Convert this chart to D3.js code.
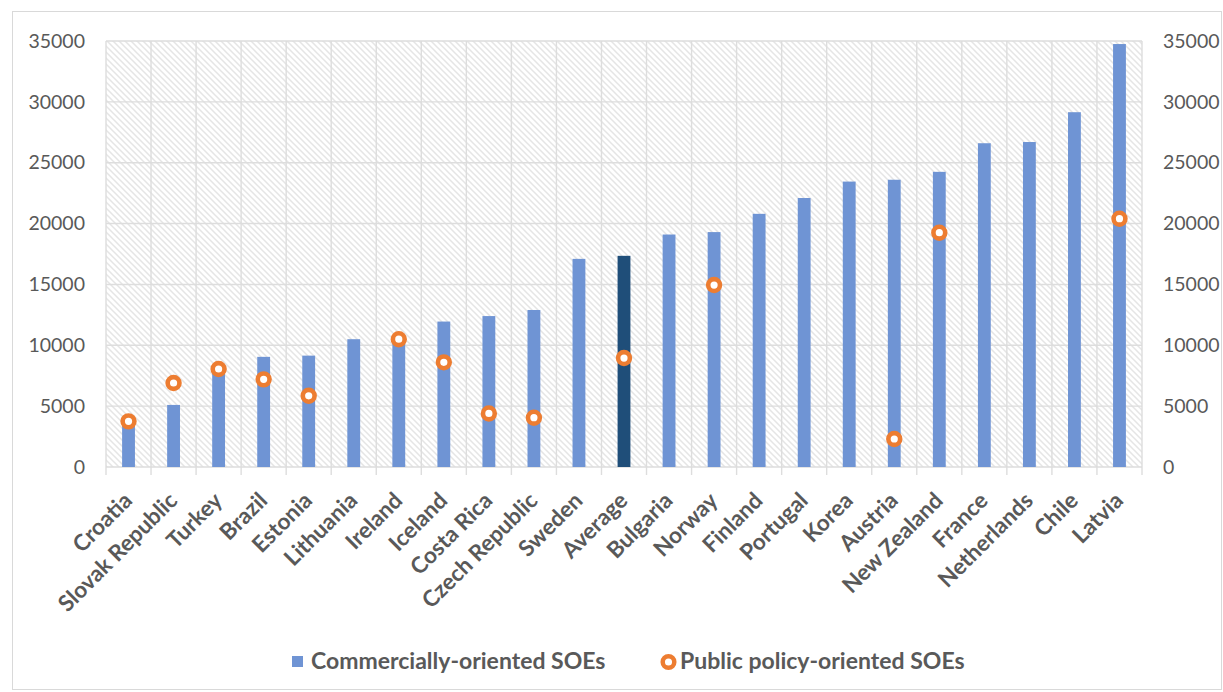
<!DOCTYPE html>
<html>
<head>
<meta charset="utf-8">
<script src="https://cdn.jsdelivr.net/npm/d3@7"></script>
<style>
  html, body { margin: 0; padding: 0; background: #fff; }
  svg { display: block; }
</style>
</head>
<body>
<svg id="chart" width="1223" height="692"></svg>
<script>
// Countries, ordered by the commercially-oriented figure, with the average inserted
const categories = ["Croatia", "Slovak Republic", "Turkey", "Brazil", "Estonia", "Lithuania",
  "Ireland", "Iceland", "Costa Rica", "Czech Republic", "Sweden", "Average", "Bulgaria",
  "Norway", "Finland", "Portugal", "Korea", "Austria", "New Zealand", "France",
  "Netherlands", "Chile", "Latvia"];

// Commercially-oriented SOEs (bars)
const commercial = [3600, 5100, 7900, 9050, 9150, 10500, 10400, 11950, 12400, 12900, 17100,
  17350, 19100, 19300, 20800, 22100, 23450, 23600, 24250, 26600, 26700, 29150, 34750];

// Public policy-oriented SOEs (markers); null where no figure is reported
const publicPolicy = [3750, 6900, 8050, 7200, 5850, null, 10500, 8600, 4400, 4050, null,
  8950, null, 14950, null, null, null, 2300, 19250, null, null, null, 20400];

const yTicks = [0, 5000, 10000, 15000, 20000, 25000, 30000, 35000];

const seriesNames = ["Commercially-oriented SOEs", "Public policy-oriented SOEs"];

const W = 1223, H = 692;
const plot = { left: 106, right: 1142, top: 41, bottom: 467 };

const blue = "#6f94d4", navy = "#1f4e79", orange = "#ed7d31";
const grid = "#dddddd", textGrey = "#595959";

const svg = d3.select("#chart");

// Hatched plot-area fill
const defs = svg.append("defs");
const hatch = defs.append("pattern")
  .attr("id", "hatch").attr("patternUnits", "userSpaceOnUse")
  .attr("width", 6).attr("height", 6);
hatch.append("rect").attr("width", 6).attr("height", 6).attr("fill", "#fff");
hatch.append("path")
  .attr("d", "M0,0L6,6M5,-1L7,1M-1,5L1,7")
  .attr("stroke", "#e5e5e5").attr("stroke-width", 1.5);

// Outer chart frame
svg.append("rect")
  .attr("x", 12.5).attr("y", 11.5)
  .attr("width", W - 14).attr("height", H - 14)
  .attr("fill", "#fff").attr("stroke", "#d9d9d9").attr("stroke-width", 1);

const x = d3.scaleBand().domain(categories).range([plot.left, plot.right]).padding(0);
const y = d3.scaleLinear().domain([0, 35000]).range([plot.bottom, plot.top]);

svg.append("rect")
  .attr("x", plot.left).attr("y", plot.top)
  .attr("width", plot.right - plot.left).attr("height", plot.bottom - plot.top)
  .attr("fill", "url(#hatch)");

// Horizontal gridlines
svg.append("g").selectAll("line").data(yTicks).join("line")
  .attr("x1", plot.left).attr("x2", plot.right)
  .attr("y1", d => y(d)).attr("y2", d => y(d))
  .attr("stroke", grid).attr("stroke-width", 1.4);

// Vertical gridlines at category boundaries, extending down as tick marks
const bounds = categories.map(c => x(c)).concat([plot.right]);
svg.append("g").selectAll("line").data(bounds).join("line")
  .attr("x1", d => d).attr("x2", d => d)
  .attr("y1", plot.top).attr("y2", plot.bottom + 8)
  .attr("stroke", grid).attr("stroke-width", 1.4);

// Bars
const barW = x.bandwidth() * 0.285;
svg.append("g").selectAll("rect").data(categories).join("rect")
  .attr("x", d => x(d) + (x.bandwidth() - barW) / 2)
  .attr("width", barW)
  .attr("y", (d, i) => y(commercial[i]))
  .attr("height", (d, i) => y(0) - y(commercial[i]))
  .attr("fill", d => d === "Average" ? navy : blue);

// Markers
const pts = categories.map((c, i) => ({ c, v: publicPolicy[i] })).filter(d => d.v !== null);
svg.append("g").selectAll("circle").data(pts).join("circle")
  .attr("cx", d => x(d.c) + x.bandwidth() / 2)
  .attr("cy", d => y(d.v))
  .attr("r", 5.9)
  .attr("fill", "#fff").attr("stroke", orange).attr("stroke-width", 4.6);

// Value axes on both sides
const fontFam = "Lato, 'Open Sans', sans-serif";
const leftAxis = d3.axisLeft(y).tickValues(yTicks).tickSize(0).tickPadding(21).tickFormat(d3.format("d"));
const rightAxis = d3.axisRight(y).tickValues(yTicks).tickSize(0).tickPadding(21).tickFormat(d3.format("d"));
[[leftAxis, plot.left], [rightAxis, plot.right]].forEach(([ax, pos]) => {
  const g = svg.append("g").attr("transform", `translate(${pos},0)`).call(ax);
  g.select(".domain").remove();
  g.selectAll("text")
    .attr("fill", textGrey)
    .style("font-family", fontFam).style("font-size", "19.5px");
});

// Rotated category labels
svg.append("g").selectAll("text").data(categories).join("text")
  .attr("transform", d => `translate(${x(d) + x.bandwidth() / 2 + 5},502) rotate(-45)`)
  .attr("text-anchor", "end")
  .attr("fill", textGrey)
  .style("font-family", fontFam).style("font-weight", "700").style("font-size", "22.5px")
  .text(d => d);

// Legend
const legend = svg.append("g");
legend.append("rect")
  .attr("x", 292).attr("y", 656).attr("width", 11).attr("height", 11).attr("fill", blue);
legend.append("text")
  .attr("x", 311).attr("y", 669)
  .attr("fill", textGrey)
  .style("font-family", fontFam).style("font-weight", "700").style("font-size", "23px")
  .text(seriesNames[0]);
legend.append("circle")
  .attr("cx", 668.5).attr("cy", 662).attr("r", 5.8)
  .attr("fill", "#fff").attr("stroke", orange).attr("stroke-width", 4.5);
legend.append("text")
  .attr("x", 680).attr("y", 669)
  .attr("fill", textGrey)
  .style("font-family", fontFam).style("font-weight", "700").style("font-size", "23px")
  .text(seriesNames[1]);
</script>
</body>
</html>
